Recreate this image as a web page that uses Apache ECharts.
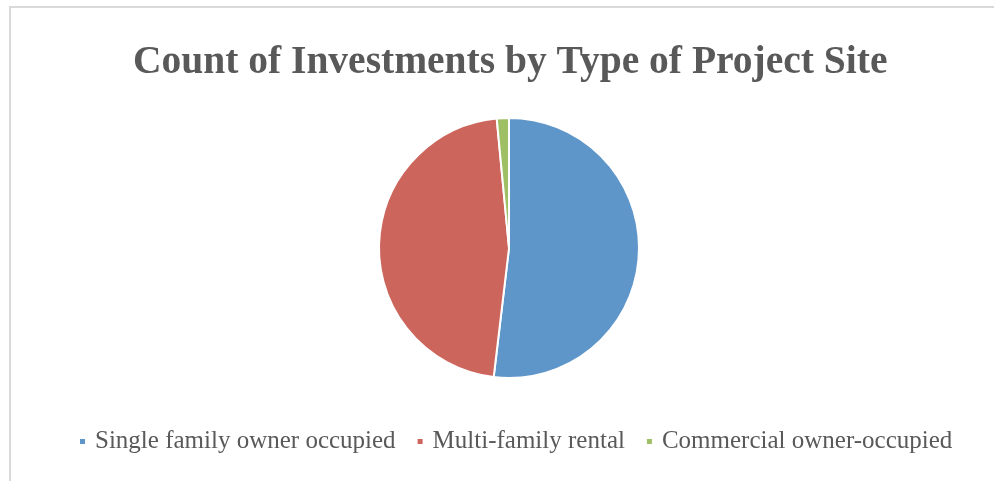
<!DOCTYPE html>
<html>
<head>
<meta charset="utf-8">
<script src="https://cdn.jsdelivr.net/npm/echarts@6/dist/echarts.min.js"></script>
<style>
  html, body { margin: 0; padding: 0; background: #fff; }
  #main { width: 994px; height: 481px; }
</style>
</head>
<body>
<div id="main"></div>
<script>
var categories = ['Single family owner occupied', 'Multi-family rental', 'Commercial owner-occupied'];
var counts = [69, 62, 2];
var colors = ['#5f96c9', '#cc655c', '#9fbf65'];

var chart = echarts.init(document.getElementById('main'));

var data = categories.map(function (name, i) {
	return { name: name, value: counts[i], itemStyle: { color: colors[i] } };
});

var option = {
	animation: false,
	graphic: [
		{
			type: 'rect',
			shape: { x: 10, y: 7, width: 1000, height: 500 },
			style: { fill: 'none', stroke: '#d9d9d9', lineWidth: 2 },
			silent: true
		}
	],
	title: {
		text: 'Count of Investments by Type of Project Site',
		left: 128,
		top: 38,
		textStyle: {
			fontFamily: 'Liberation Serif',
			fontWeight: 'bold',
			fontSize: 39.5,
			color: '#595959'
		}
	},
	legend: {
		top: 424,
		left: 73,
		icon: 'rect',
		itemWidth: 7,
		itemHeight: 7,
		itemGap: 20,
		textStyle: {
			fontFamily: 'Liberation Serif',
			fontSize: 25,
			color: '#595959',
			padding: [0, 0, 0, 4]
		},
		data: categories
	},
	series: [
		{
			type: 'pie',
			center: [509, 248],
			radius: 130,
			startAngle: 90,
			clockwise: true,
			label: { show: false },
			labelLine: { show: false },
			itemStyle: { borderColor: '#fff', borderWidth: 2 },
			data: data
		}
	]
};

chart.setOption(option);
</script>
</body>
</html>
